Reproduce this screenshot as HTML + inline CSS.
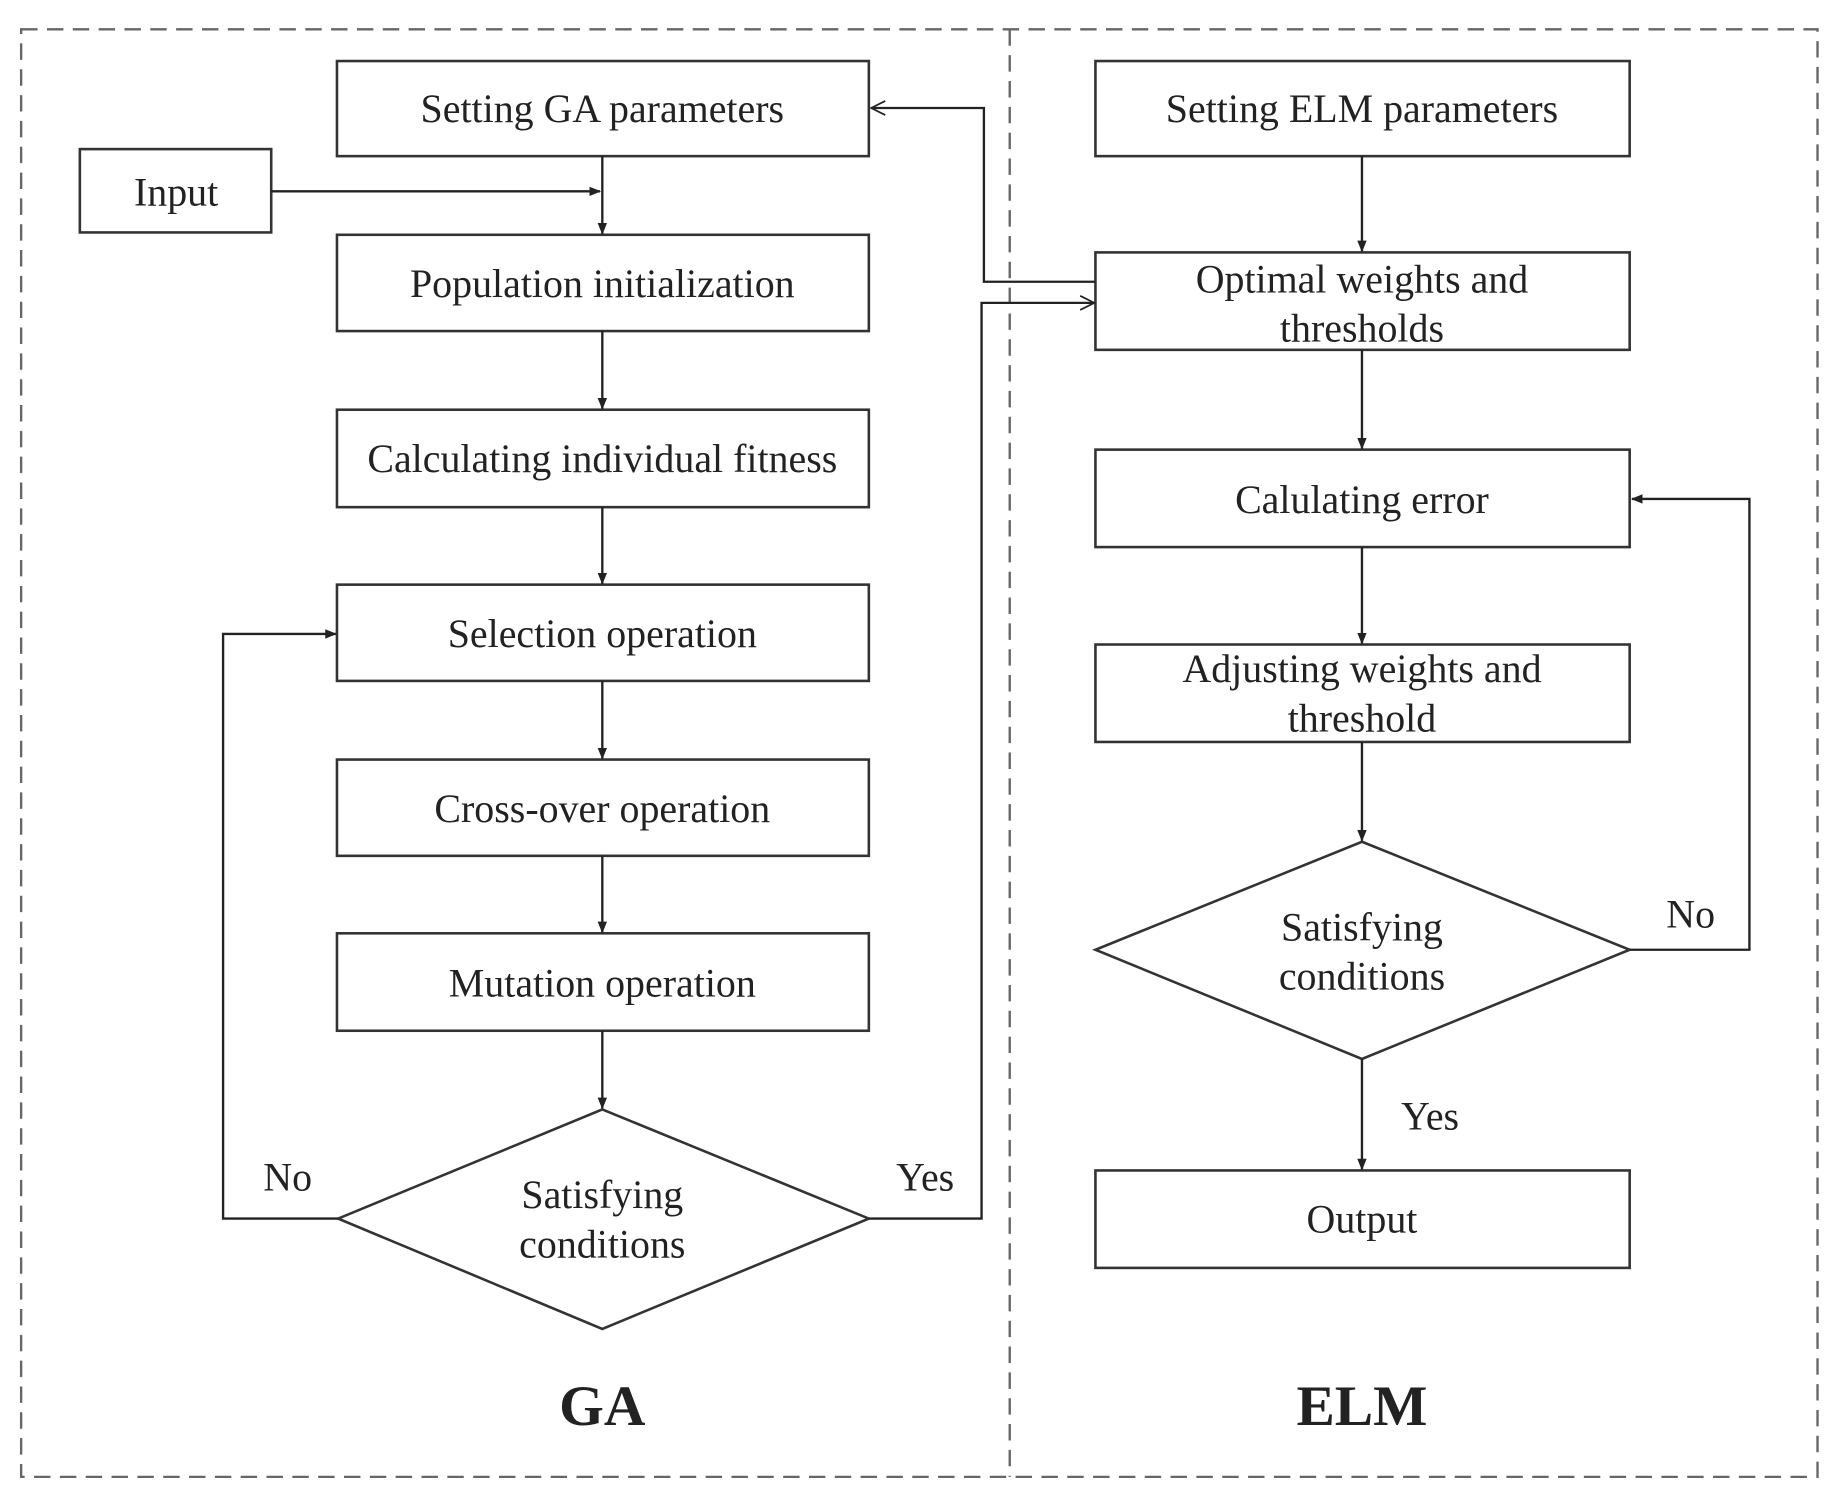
<!DOCTYPE html>
<html><head><style>html,body{margin:0;padding:0;background:#fff}svg{display:block}</style></head>
<body>
<svg width="1841" height="1498" viewBox="0 0 1568 1276" preserveAspectRatio="none" xmlns="http://www.w3.org/2000/svg">
<defs>
<marker id="a" markerWidth="10" markerHeight="10" refX="9" refY="5" orient="auto" markerUnits="userSpaceOnUse"><path d="M0,1 L10,5 L0,9 Z" fill="#222"/></marker>
<marker id="o" markerWidth="14" markerHeight="14" refX="13" refY="7" orient="auto" markerUnits="userSpaceOnUse"><path d="M1,1 L13,7 L1,13" fill="none" stroke="#222" stroke-width="1.5"/></marker>
</defs>
<g fill="none" stroke="#666" stroke-width="2" stroke-dasharray="14,8">
<rect x="18" y="25" width="1530" height="1233"/>
<line x1="860" y1="25" x2="860" y2="1258"/>
</g>
<g fill="#fff" stroke="#333" stroke-width="2.2">
<rect x="287" y="52" width="453" height="81"/>
<rect x="68" y="127" width="163" height="71"/>
<rect x="287" y="200" width="453" height="82"/>
<rect x="287" y="349" width="453" height="83"/>
<rect x="287" y="498" width="453" height="82"/>
<rect x="287" y="647" width="453" height="82"/>
<rect x="287" y="795" width="453" height="83"/>
<polygon points="513,945 740,1038 513,1132 288,1038"/>
<rect x="933" y="52" width="455" height="81"/>
<rect x="933" y="215" width="455" height="83"/>
<rect x="933" y="383" width="455" height="83"/>
<rect x="933" y="549" width="455" height="83"/>
<polygon points="1160,717 1388,809 1160,902 933,809"/>
<rect x="933" y="997" width="455" height="83"/>
</g>
<g fill="none" stroke="#222" stroke-width="2">
<line x1="513" y1="133" x2="513" y2="199" marker-end="url(#a)"/>
<line x1="231" y1="163" x2="511" y2="163" marker-end="url(#a)"/>
<line x1="513" y1="282" x2="513" y2="348" marker-end="url(#a)"/>
<line x1="513" y1="432" x2="513" y2="497" marker-end="url(#a)"/>
<line x1="513" y1="580" x2="513" y2="646" marker-end="url(#a)"/>
<line x1="513" y1="729" x2="513" y2="794" marker-end="url(#a)"/>
<line x1="513" y1="878" x2="513" y2="944" marker-end="url(#a)"/>
<polyline points="288,1038 190,1038 190,540 286,540" marker-end="url(#a)"/>
<polyline points="740,1038 836,1038 836,258 932,258" marker-end="url(#o)"/>
<polyline points="933,240 838,240 838,92 742,92" marker-end="url(#o)"/>
<line x1="1160" y1="133" x2="1160" y2="214" marker-end="url(#a)"/>
<line x1="1160" y1="298" x2="1160" y2="382" marker-end="url(#a)"/>
<line x1="1160" y1="466" x2="1160" y2="548" marker-end="url(#a)"/>
<line x1="1160" y1="632" x2="1160" y2="716" marker-end="url(#a)"/>
<line x1="1160" y1="902" x2="1160" y2="996" marker-end="url(#a)"/>
<polyline points="1388,809 1490,809 1490,425 1390,425" marker-end="url(#a)"/>
</g>
<g font-family="'Liberation Serif',serif" font-size="34" fill="#222" text-anchor="middle">
<text x="513" y="104">Setting GA parameters</text>
<text x="150" y="175">Input</text>
<text x="513" y="253">Population initialization</text>
<text x="513" y="402">Calculating individual fitness</text>
<text x="513" y="551">Selection operation</text>
<text x="513" y="700">Cross-over operation</text>
<text x="513" y="849">Mutation operation</text>
<text x="513" y="1029">Satisfying</text>
<text x="513" y="1071">conditions</text>
<text x="245" y="1014">No</text>
<text x="788" y="1014">Yes</text>
<text x="1160" y="104">Setting ELM parameters</text>
<text x="1160" y="249">Optimal weights and</text>
<text x="1160" y="291">thresholds</text>
<text x="1160" y="437">Calulating error</text>
<text x="1160" y="581">Adjusting weights and</text>
<text x="1160" y="623">threshold</text>
<text x="1160" y="801">Satisfying</text>
<text x="1160" y="843">conditions</text>
<text x="1440" y="790">No</text>
<text x="1218" y="962">Yes</text>
<text x="1160" y="1050">Output</text>
<text x="513" y="1214" font-size="49" font-weight="bold">GA</text>
<text x="1160" y="1214" font-size="49" font-weight="bold">ELM</text>
</g>
</svg>
</body></html>
